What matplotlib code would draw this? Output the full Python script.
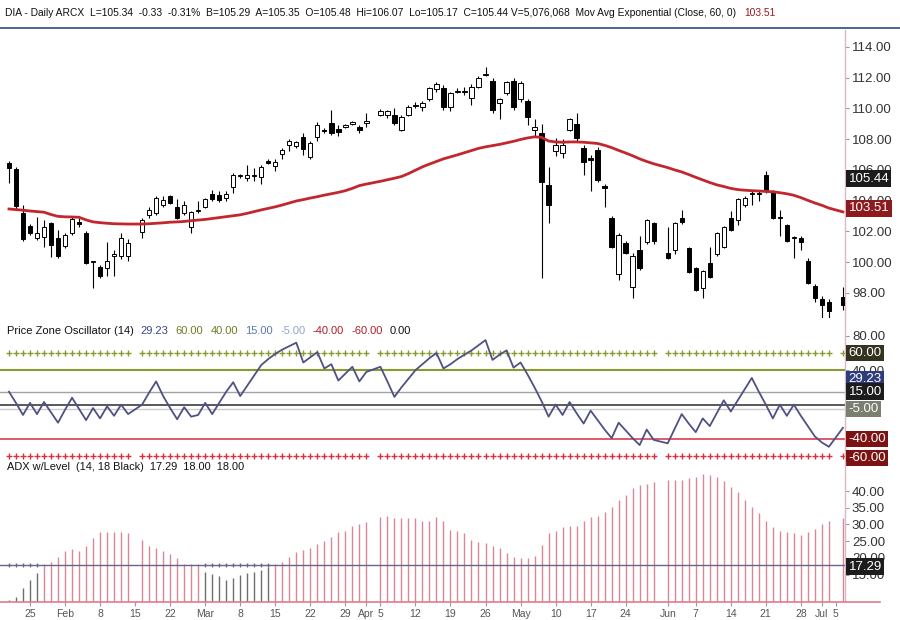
import numpy as np
import pandas as pd
import matplotlib
matplotlib.use("Agg")
import matplotlib.pyplot as plt

plt.rcParams['font.family'] = ['Liberation Sans', 'DejaVu Sans']

# ---------------- data ----------------
holidays = ['2010-02-15', '2010-04-02', '2010-05-31', '2010-07-05']
all_days = pd.bdate_range('2010-01-20', '2010-07-06')
dates = all_days[~all_days.isin(pd.to_datetime(holidays))]

opens = [106.46, 106.07, 103.2, 102.36, 101.58, 101.64, 102.55, 101.58, 101.06, 101.9,
         102.6, 101.9, 100.0, 99.7, 99.6, 100.4, 100.4, 100.4, 101.97, 103.07,
         103.2, 103.72, 104.3, 103.6, 103.2, 102.3, 103.3, 103.6, 104.44, 104.37,
         104.18, 104.9, 105.6, 105.48, 105.6, 105.54, 106.6, 106.26, 107.04, 107.63,
         107.56, 108.15, 106.85, 108.15, 108.6, 109.06, 108.67, 108.8, 109.0, 108.8,
         109.05, 109.6, 109.55, 109.6, 108.6, 109.6, 110.15, 110.1, 110.6, 111.27,
         111.33, 110.1, 111.1, 111.1, 110.7, 111.4, 112.2, 111.8, 110.36, 111.0,
         111.8, 110.6, 110.5, 108.6, 108.4, 105.0, 107.2, 107.1, 108.6, 109.0,
         107.4, 106.75, 107.3, 104.95, 102.9, 99.2, 101.25, 98.4, 100.8, 101.3,
         102.55, 100.6, 100.8, 102.9, 100.9, 99.6, 98.3, 99.95, 100.5, 101.0,
         102.9, 102.75, 103.7, 104.45, 104.45, 105.7, 104.6, 102.95, 102.4, 101.55,
         101.6, 100.1, 98.45, 97.6, 97.4, 97.75]
highs = [106.6, 106.2, 103.7, 102.5, 102.94, 102.75, 102.6, 102.1, 101.9, 102.94,
         102.9, 102.0, 100.1, 99.8, 101.3, 100.8, 101.9, 101.5, 102.9, 103.6,
         104.3, 104.3, 104.4, 104.1, 104.0, 103.3, 104.0, 104.2, 104.7, 104.6,
         104.6, 105.8, 105.75, 106.3, 106.1, 106.3, 106.7, 106.7, 107.4, 108.0,
         107.9, 108.4, 107.9, 109.1, 108.7, 109.9, 108.9, 109.0, 109.2, 108.95,
         109.7, 109.95, 109.9, 110.0, 109.6, 110.2, 110.4, 110.5, 111.4, 111.7,
         111.5, 111.1, 111.3, 111.4, 111.6, 112.1, 112.7, 112.0, 110.7, 111.8,
         112.0, 111.8, 110.6, 109.3, 109.0, 106.2, 108.1, 108.0, 109.4, 109.7,
         107.6, 107.0, 107.5, 105.1, 103.0, 101.9, 101.4, 100.6, 101.7, 102.8,
         102.6, 102.3, 102.6, 103.4, 101.0, 99.7, 99.5, 101.0, 101.95, 102.35,
         103.3, 104.15, 104.3, 104.6, 104.6, 105.9, 104.7, 103.4, 102.5, 101.7,
         101.7, 100.3, 98.6, 97.8, 97.6, 98.4]
lows = [105.15, 103.4, 101.4, 101.77, 101.45, 101.0, 100.34, 100.3, 100.9, 101.8,
        102.3, 99.85, 98.3, 99.0, 99.1, 99.1, 100.2, 100.1, 101.6, 102.9,
        103.1, 103.6, 103.8, 102.8, 103.1, 101.9, 103.2, 103.5, 104.0, 103.9,
        104.0, 104.5, 105.5, 105.3, 105.3, 105.1, 106.4, 105.9, 106.7, 107.2,
        107.4, 107.0, 106.7, 107.9, 108.4, 108.3, 108.2, 108.7, 108.9, 108.4,
        108.8, 109.5, 109.4, 108.9, 108.5, 109.5, 110.0, 109.8, 110.5, 111.1,
        109.9, 109.8, 111.0, 110.9, 110.2, 111.3, 112.1, 109.7, 109.3, 110.9,
        109.9, 110.4, 108.9, 108.2, 99.0, 102.55, 106.9, 106.8, 108.5, 107.9,
        105.7, 104.6, 105.2, 103.6, 100.9, 98.85, 100.5, 97.7, 99.5, 101.2,
        101.2, 100.2, 100.5, 102.5, 99.3, 98.1, 97.7, 99.0, 100.4, 100.9,
        102.0, 102.4, 103.6, 103.7, 104.0, 104.5, 102.8, 101.7, 101.3, 100.3,
        100.8, 98.6, 97.4, 96.1, 96.0, 96.9]
closes = [106.13, 103.66, 101.5, 101.9, 101.9, 102.3, 101.12, 100.4, 101.77, 102.81,
          102.5, 99.95, 100.05, 99.1, 100.07, 100.5, 101.58, 101.25, 102.75, 103.4,
          104.18, 104.05, 103.85, 102.88, 103.72, 103.27, 103.4, 104.1, 104.1, 104.05,
          104.44, 105.67, 105.65, 105.67, 105.7, 106.2, 106.45, 106.52, 107.3, 107.9,
          107.82, 107.37, 107.76, 108.93, 108.5, 108.4, 108.47, 108.93, 109.1, 108.6,
          109.15, 109.8, 109.8, 109.06, 109.45, 110.1, 110.25, 110.36, 111.3, 111.6,
          110.1, 111.0, 111.15, 111.15, 111.4, 112.0, 112.25, 109.9, 110.6, 111.7,
          110.1, 111.66, 109.45, 108.8, 105.2, 103.7, 107.6, 107.6, 109.3, 108.1,
          106.5, 106.65, 105.35, 104.85, 101.0, 101.8, 100.6, 100.4, 99.6, 102.75,
          101.4, 100.3, 102.55, 102.6, 99.37, 98.2, 99.4, 99.05, 101.9, 102.3,
          102.1, 104.1, 104.2, 104.5, 104.5, 104.6, 102.9, 102.9, 101.4, 101.6,
          101.3, 98.65, 97.7, 97.2, 96.8, 97.2]

ema60 = [103.46, 103.42, 103.38, 103.33, 103.29, 103.25, 103.1, 102.98, 102.95, 102.94,
         102.92, 102.75, 102.62, 102.57, 102.53, 102.5, 102.49, 102.48, 102.48, 102.5,
         102.53, 102.56, 102.6, 102.62, 102.65, 102.7, 102.74, 102.78, 102.84, 102.9,
         102.96, 103.02, 103.08, 103.18, 103.29, 103.4, 103.5, 103.6, 103.72, 103.85,
         103.98, 104.07, 104.17, 104.26, 104.36, 104.45, 104.54, 104.65, 104.8, 104.98,
         105.08, 105.26, 105.36, 105.46, 105.57, 105.76, 105.98, 106.2, 106.38, 106.55,
         106.72, 106.85, 106.98, 107.12, 107.26, 107.4, 107.5, 107.58, 107.66, 107.76,
         107.86, 107.98, 108.08, 108.15, 108.12, 107.88, 107.82, 107.8, 107.82, 107.82,
         107.8, 107.76, 107.72, 107.6, 107.45, 107.27, 107.1, 106.92, 106.72, 106.55,
         106.4, 106.15, 106.0, 105.87, 105.7, 105.52, 105.35, 105.18, 105.03, 104.92,
         104.8, 104.72, 104.68, 104.65, 104.63, 104.6, 104.58, 104.52, 104.45, 104.35,
         104.2, 104.02, 103.85, 103.7, 103.52, 103.27]

pzo = [15, 2, -12, 2, -11, 3, -9, -21, -6, 8,
       -5, -18, -4, -16, -2, -13, 0, -11, 0, 14,
       27, 10, -4, -17, -3, -14, -12, 2, -11, 2,
       15, 26, 10, 22, 34, 46, 53, 59, 64, 68,
       72, 49, 55, 61, 42, 47, 28, 36, 44, 27,
       38, 44, 27, 9, 20, 30, 40, 47, 54, 60,
       42, 47, 53, 58, 63, 69, 75, 52, 58, 63,
       43, 49, 35, 20, 4, -14, 0, -12, 3, -10,
       -22, -7, -18, -29, -39, -21, -30, -39, -47, -29,
       -41, -45, -28, -11, -22, -32, -16, -25, -10, 5,
       -8, 5, 18, 31, 15, 0, -16, 0, -13, 0,
       -13, -25, -37, -44, -49, -27]

adx = [7.5, 8.3, 11, 13.4, 15.4, 18.1, 18.7, 20.3, 22, 22.6,
       22, 23.5, 25.9, 27.7, 27.8, 27.8, 27.7, 27.4, 25.3, 23.6,
       23, 22, 21.1, 19.9, 18.1, 18.3, 18.1, 15.8, 15.1, 14.5,
       13.4, 13.9, 14.9, 15.4, 15.8, 16.4, 17.3, 18.2, 18.7, 20.3,
       21.7, 22.3, 22.9, 24.1, 25, 26.2, 27.7, 28, 29.5, 30,
       30.7, 32.2, 32.5, 31.9, 31.8, 31.8, 31.9, 31, 31, 32.2,
       31, 28.3, 28.1, 27.4, 25.3, 24.7, 24.4, 23.6, 22.9, 21.4,
       20.3, 19.9, 20.0, 20.6, 23.8, 27.4, 28, 29.2, 29.5, 29.5,
       31, 32.2, 32.5, 33.7, 35.2, 37.3, 38.8, 40.9, 41.8, 42.1,
       42.7, 43.3, 43.3, 43.3, 43.9, 44.2, 45, 44.8, 44.2, 43,
       41.2, 39.6, 37.3, 35.2, 33.4, 31, 29.2, 28, 27.7, 27.4,
       26.8, 27.7, 28.6, 30, 31, 32]
adx_level = 18

tick_dates = ['2010-01-25', '2010-02-01', '2010-02-08', '2010-02-15', '2010-02-22',
              '2010-03-01', '2010-03-08', '2010-03-15', '2010-03-22', '2010-03-29',
              '2010-04-01', '2010-04-05', '2010-04-12', '2010-04-19', '2010-04-26',
              '2010-05-03', '2010-05-10', '2010-05-17', '2010-05-24', '2010-06-01',
              '2010-06-07', '2010-06-14', '2010-06-21', '2010-06-28', '2010-07-01',
              '2010-07-05']
tick_labels = ['25', 'Feb', '8', '15', '22', 'Mar', '8', '15', '22', '29', 'Apr', '5',
               '12', '19', '26', 'May', '10', '17', '24', 'Jun', '7', '14', '21', '28',
               'Jul', '5']

price_ticks = [98, 100, 102, 104, 106, 108, 110, 112, 114]

header_parts = [("DIA - Daily ARCX  L=105.34  -0.33  -0.31%  B=105.29  A=105.35  O=105.48  "
                 "Hi=106.07  Lo=105.17  C=105.44 V=5,076,068  Mov Avg Exponential (Close, 60, 0)",
                 '#111111'),
                ("103.51", '#9a1a1e')]
pzo_title = [('Price Zone Oscillator (14)', '#111111'), ('29.23', '#3a4588'),
             ('60.00', '#6f7d24'), ('40.00', '#6f7d24'), ('15.00', '#5b78b0'),
             ('-5.00', '#93a3c8'), ('-40.00', '#b01e2a'), ('-60.00', '#b01e2a'),
             ('0.00', '#111111')]
adx_title = [('ADX w/Level  (14, 18 Black)  17.29  18.00  18.00', '#111111')]

# ---------------- positions (weekday index, holidays left empty) ----------------
start = np.datetime64('2010-01-20')
def wpos(d):
    return np.busday_count(start, np.datetime64(pd.Timestamp(d).date()))
x = np.array([wpos(d) for d in dates], dtype=float)
xt = [wpos(d) for d in tick_dates]

opens, highs, lows, closes = map(np.array, (opens, highs, lows, closes))
adx = np.array(adx)

W, H = 900, 620
fig = plt.figure(figsize=(9, 6.2), dpi=100)
def rect(x0, y0, x1, y1):
    return [x0 / W, 1 - y1 / H, (x1 - x0) / W, (y1 - y0) / H]

ax1 = fig.add_axes(rect(0, 30, 845, 318))
ax2 = fig.add_axes(rect(0, 318, 845, 462), sharex=ax1)
ax3 = fig.add_axes(rect(0, 462, 845, 602), sharex=ax1)

spine_col = '#d9b9c2'
for ax in (ax1, ax2, ax3):
    for s in ('top', 'left', 'bottom'):
        ax.spines[s].set_visible(False)
    ax.spines['right'].set_color(spine_col)
    ax.spines['right'].set_linewidth(1.0)
    ax.yaxis.tick_right()
    ax.tick_params(axis='y', length=3, color='#999999', labelsize=9.5,
                   labelcolor='#333333', pad=2)
    ax.set_facecolor('white')
ax1.tick_params(axis='x', bottom=False, labelbottom=False)
ax2.tick_params(axis='x', bottom=False, labelbottom=False)

ax1.set_xlim(-1.28, 119.3)

# ---------------- price panel ----------------
up = closes >= opens
ax1.vlines(x, lows, highs, color='black', lw=0.8, zorder=2)
body_lo = np.minimum(opens, closes)
body_h = np.maximum(np.abs(closes - opens), 0.06)
ax1.bar(x, body_h, bottom=body_lo, width=0.62,
        color=np.where(up, 'white', 'black'), edgecolor='black', linewidth=0.7, zorder=3)
ax1.plot(x, ema60, color='#c2262e', lw=2.0, zorder=4)
ax1.set_ylim(96.37, 115.1)
ax1.set_yticks(price_ticks)
ax1.set_yticklabels([f'{v:.2f}' for v in price_ticks])

def tag(ax, val, text, fc, tc='white'):
    ax.annotate(text, xy=(1, val), xycoords=('axes fraction', 'data'),
                xytext=(2.5, 0), textcoords='offset points', ha='left', va='center',
                fontsize=9.5, color=tc, annotation_clip=False, zorder=10,
                bbox=dict(boxstyle='square,pad=0.18', fc=fc, ec='none'))

tag(ax1, 105.44, '105.44', '#1c1c1c')
tag(ax1, 103.51, '103.51', '#8c1a1e')

# ---------------- price zone oscillator ----------------
ax2.set_ylim(-66.7, 100.7)
ax2.axhline(40, color='#8b9a2e', lw=1.5, zorder=1)
ax2.axhline(15, color='#a3a3a3', lw=1.0, zorder=1)
ax2.axhline(0, color='#3c3c3c', lw=1.2, zorder=1)
ax2.axhline(-5, color='#cccccc', lw=1.0, zorder=1)
ax2.axhline(-40, color='#d8404e', lw=1.2, zorder=1)
ax2.plot(x, np.full_like(x, 60.0), ls='none', marker='+', ms=4, mew=1.0,
         color='#8b9a2e', zorder=2)
ax2.plot(x, np.full_like(x, -60.0), ls='none', marker='+', ms=4, mew=1.0,
         color='#d8303e', zorder=2)
ax2.plot(x, pzo, color='#4d5282', lw=1.3, zorder=3)
ax2.set_yticks([80, 40])
ax2.set_yticklabels(['80.00', '40.00'])
tag(ax2, 60, '60.00', '#33331f')
tag(ax2, 29.23, '29.23', '#2f3c7c')
tag(ax2, 15, '15.00', '#1c1c1c')
tag(ax2, -5, '-5.00', '#7b7f72')
tag(ax2, -40, '-40.00', '#7c1212')
tag(ax2, -62, '-60.00', '#7c1212')

# ---------------- ADX ----------------
ybot = 6.8
ax3.set_ylim(ybot, 48.7)
cols = np.where(adx >= adx_level, '#d98696', '#6e6e6e')
ax3.vlines(x, ybot, adx, colors=cols, lw=1.0, zorder=2)
ax3.axhline(adx_level, color='#66668c', lw=1.0, zorder=3)
low_mask = adx < adx_level
ax3.plot(x[low_mask], np.full(low_mask.sum(), adx_level), ls='none', marker='+',
         ms=3.5, mew=0.9, color='#66668c', zorder=4)
ax3.set_yticks([15, 20, 25, 30, 35, 40])
ax3.set_yticklabels(['15.00', '20.00', '25.00', '30.00', '35.00', '40.00'])
tag(ax3, 17.4, '17.29', '#1c1c1c')

ax3.set_xticks(xt)
ax3.set_xticklabels(tick_labels)
ax3.tick_params(axis='x', length=3, color='#999999', labelsize=7.5,
                labelcolor='#555555', pad=2)

# baseline and header rule
fig.add_artist(plt.Line2D([0, 880 / W], [1 - 602 / H] * 2, color='#e07c8c', lw=1.2))
fig.add_artist(plt.Line2D([0, 1], [1 - 28 / H] * 2, color='#2b4a86', lw=1.2))

renderer = fig.canvas.get_renderer()

def text_row(px0, px1, py, parts, gap=7, max_size=9.5):
    """Lay a row of coloured text pieces from px0, shrunk so the row ends near px1."""
    arts = []
    for s, c in parts:
        t = fig.text(0, 1 - py / H, s, va='center', ha='left', fontsize=max_size, color=c)
        arts.append(t)
    widths = [a.get_window_extent(renderer).width for a in arts]
    total = sum(widths) + gap * (len(parts) - 1)
    scale = min(1.0, (px1 - px0) / total)
    pos = px0
    for a, w in zip(arts, widths):
        a.set_fontsize(max_size * scale)
        a.set_x(pos / W)
        pos += w * scale + gap

text_row(5, 775, 13, header_parts, gap=6)
text_row(7, 403, 331, pzo_title, gap=7)
text_row(7, 247, 467, adx_title, gap=6)

fig.savefig('out.png', dpi=100, facecolor='white')
